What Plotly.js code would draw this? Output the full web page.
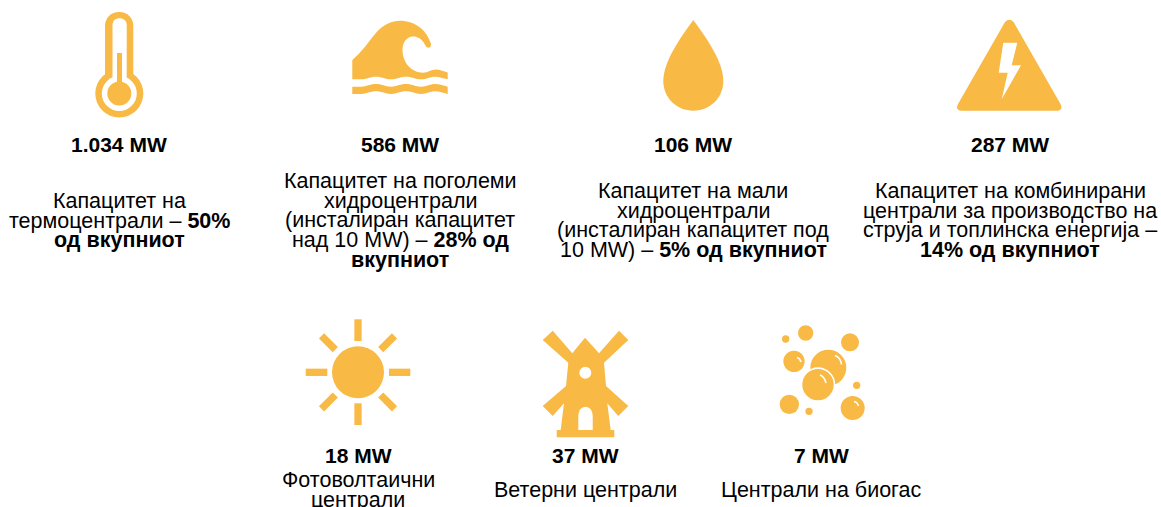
<!DOCTYPE html>
<html><head><meta charset="utf-8">
<script src="https://cdn.plot.ly/plotly-3.0.1.min.js"></script>
<style>html,body{margin:0;padding:0;background:#fff}#c{width:1161px;height:507px}</style>
</head><body><div id="c"></div>
<script>
// ---- content ----
const capacities = ['1.034 MW','586 MW','106 MW','287 MW','18 MW','37 MW','7 MW'];
const descriptions = [
  ['Капацитет на','термоцентрали – <b>50%</b>','<b>од вкупниот</b>'],
  ['Капацитет на поголеми','хидроцентрали','(инсталиран капацитет','над 10 MW) – <b>28% од</b>','<b>вкупниот</b>'],
  ['Капацитет на мали','хидроцентрали','(инсталиран капацитет под','10 MW) – <b>5% од вкупниот</b>'],
  ['Капацитет на комбинирани','централи за производство на','струја и топлинска енергија –','<b>14% од вкупниот</b>'],
  ['Фотоволтаични','централи'],
  ['Ветерни централи'],
  ['Централи на биогас']
];
// ---- layout of the blocks ----
const centers = [119,400,693,1010,358,585,821];
const valueY = [144,144,144,144,455,455,455];
const firstLineY = [201,181,191,191,480,490,490];
const lineGap = 19.7;
const ORANGE = '#F8B945', WHITE = '#ffffff', TEXT = '#000000';
const FONT = '"Liberation Sans", Arial, sans-serif';

const annotations = [];
capacities.forEach((t,i)=>{
  annotations.push({x:centers[i],y:valueY[i],text:'<b>'+t+'</b>',showarrow:false,xanchor:'center',yanchor:'middle',
    font:{family:FONT,size:21,color:TEXT}});
  descriptions[i].forEach((l,j)=>{
    annotations.push({x:centers[i],y:firstLineY[i]+j*lineGap,text:l,showarrow:false,xanchor:'center',yanchor:'middle',
      font:{family:FONT,size:21.5,color:TEXT}});
  });
});

// ---- icon helpers (decorative pictograms in page pixels) ----
const shapes = [];
const path = (d,fill)=>shapes.push({type:'path',path:d,fillcolor:fill||ORANGE,line:{width:0},layer:'above'});
const circle = (cx,cy,r,fill)=>shapes.push({type:'circle',x0:cx-r,x1:cx+r,y0:cy-r,y1:cy+r,fillcolor:fill||ORANGE,line:{width:0},layer:'above'});
const bar = (x0,y0,x1,y1,w,col)=>shapes.push({type:'line',x0,y0,x1,y1,line:{color:col||ORANGE,width:w}});
const poly = (pts,ox,oy,k)=>'M'+pts.map(p=>(ox+p[0]/k).toFixed(1)+','+(oy+p[1]/k).toFixed(1)).join('L')+'Z';

// thermometer
path('M105,82 L105,26 C105,18 111,12 119.2,12 C127.4,12 133.3,18 133.3,26 L133.3,82 Z');
circle(119.3,93.5,24);
path('M112.5,85 L112.5,25 C112.5,21 115.5,18.3 119.5,18.3 C123.5,18.3 126.7,21 126.7,25 L126.7,85 Z',WHITE);
circle(119.3,93.5,17.5,WHITE);
path('M117,53 L122,53 L122,90 L117,90 Z');
circle(119.3,93.5,12);

// wave
path('M352.3,60 C362,52 369,41 376.7,32 C384,24 392,20.7 400,20.7 C415,20.7 427,30 431,44 C431.5,48 427,49 425.5,45.5 '+
     'C422,39 418,36.5 413,36.5 C407,36.5 402.5,42 402.5,50 C402.5,63 412,72.7 423,72.7 '+
     'C428,72.7 431,69.5 436,69.5 C440,69.5 444,71.5 447.7,72.5 L447.7,79.3 '+
     'C443,78.5 440,76.7 435,76.7 C430,76.7 427,79.3 421,79.3 C415,79.3 412,76.7 406,76.7 C400,76.7 397,79.3 391,79.3 '+
     'C385,79.3 382,76.7 376,76.7 C370,76.7 367,79.3 361,79.3 L352.3,79.3 Z');
path('M352.3,86.7 L361,86.7 C367,86.7 370,84 376,84 C382,84 385,86.7 391,86.7 C397,86.7 400,84 406,84 C412,84 415,86.7 421,86.7 '+
     'C427,86.7 430,84 435,84 C440,84 443,85.7 447.7,86.7 L447.7,94 C443,93 440,91.3 435,91.3 C430,91.3 427,94 421,94 '+
     'C415,94 412,91.3 406,91.3 C400,91.3 397,94 391,94 C385,94 382,91.3 376,91.3 C370,91.3 367,94 361,94 L352.3,94 Z');

// drop
path('M693.3,20 C680,38 663.3,62 663.3,81 C663.3,98 676.8,110.7 693.3,110.7 C709.8,110.7 723.3,98 723.3,81 C723.3,62 706.6,38 693.3,20 Z');

// triangle with bolt
path('M1005,22 Q1009.3,17.5 1013.6,22 L1060.5,104 Q1063.5,110.7 1057,110.7 L961.5,110.7 Q955,110.7 958,104 Z');
path(poly([[1090,128],[1132,128],[1115,196],[1143,196],[1085,298],[1103,218],[1076,218]],640,0,3),WHITE);

// sun
circle(358,372.3,26);
bar(358,319.3,358,341,7.3); bar(358,403.3,358,425,7.3);
bar(305.7,372.3,327.3,372.3,7.3); bar(389,372.3,410.3,372.3,7.3);
[[1,1],[1,-1],[-1,1],[-1,-1]].forEach(([a,b])=>bar(358+a*22.7,372.3+b*22.7,358+a*36.5,372.3+b*36.5,7.3));

// windmill
path(poly([[165,53],[207,100],[267,32],[295,60],[222,128],[228,198],[295,258],[265,288],[232,250],[242,330],[253,330],[253,352],
  [80,352],[80,330],[92,330],[102,250],[68,288],[38,258],[108,198],[115,128],[38,60],[68,32],[127,100]],530,320,3));
circle(530+166/3,320+158/3,6,WHITE);
path('M578.3,430 L578.3,417 C578.3,410 581.5,406.7 585.5,406.7 C589.5,406.7 592.7,410 592.7,417 L592.7,430 Z',WHITE);

// bubbles
const bx=760, by=315;
[[137,54,23],[77,72,11],[270,82,27],[102,139,32],[205,158,54]].forEach(c=>circle(bx+c[0]/3,by+c[1]/3,c[2]/3));
circle(bx+174/3,by+209/3,52/3,WHITE);
[[174,209,47],[290,211,11],[88,268,29],[147,289,11],[278,279,36]].forEach(c=>circle(bx+c[0]/3,by+c[1]/3,c[2]/3));
const glint=(d)=>shapes.push({type:'path',path:d,line:{color:WHITE,width:1.6},layer:'above'});
glint('M797,357.5 C799,358 800.5,360 801,362');
glint('M835,355.5 C839,357 841,360 841.5,364.5');
glint('M820,375 C823,376 825,379 826,383');
glint('M854,401.5 C856.5,402 858,404 858.5,406');

Plotly.newPlot('c',[],{
  width:1161,height:507,margin:{l:0,r:0,t:0,b:0},
  paper_bgcolor:WHITE,plot_bgcolor:WHITE,showlegend:false,
  xaxis:{range:[0,1161],visible:false,fixedrange:true},
  yaxis:{range:[507,0],visible:false,fixedrange:true},
  annotations,shapes
},{staticPlot:true,displayModeBar:false});
</script></body></html>
